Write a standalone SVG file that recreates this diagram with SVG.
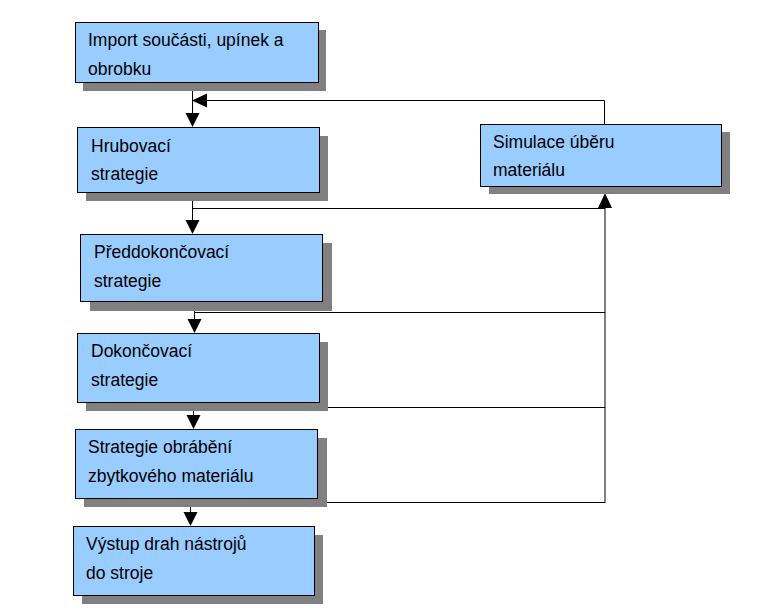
<svg xmlns="http://www.w3.org/2000/svg" width="776" height="614" viewBox="0 0 776 614">
<style>
.shadow{fill:#808080;stroke:none}
.box{fill:#99CCFF;stroke:#000;stroke-width:1}
.t{font-family:"Liberation Sans",Arial,sans-serif;font-size:17.5px;fill:#000}
.ln{fill:none;stroke:#000;stroke-width:1}
.ah{fill:#000;stroke:none}
</style>
<rect width="776" height="614" fill="#fff"/>
<g id="connectors">
  <path class="ln" d="M192.5,82 V114"/>
  <polygon class="ah" points="185.5,113 199.5,113 192.5,127"/>
  <path class="ln" d="M604.5,124 V100.5 H206"/>
  <polygon class="ah" points="192,100.5 207,93.5 207,107.5"/>
  <path class="ln" d="M192.5,192 V221"/>
  <polygon class="ah" points="185.5,220 199.5,220 192.5,234"/>
  <path class="ln" d="M192.5,208.5 H605"/>
  <path class="ln" d="M194.5,302 V320"/>
  <polygon class="ah" points="187.5,319 201.5,319 194.5,333"/>
  <path class="ln" d="M194.5,312.5 H605"/>
  <path class="ln" d="M193.5,402 V416"/>
  <polygon class="ah" points="186.5,415 200.5,415 193.5,429"/>
  <path class="ln" d="M193.5,407.5 H605"/>
  <path class="ln" d="M190.5,498 V513"/>
  <polygon class="ah" points="183.5,512 197.5,512 190.5,526"/>
  <path class="ln" d="M190.5,502.5 H605"/>
  <path class="ln" d="M605,503 V206"/>
  <polygon class="ah" points="598,208 612,208 605,193"/>
</g>
<g id="n1">
  <rect class="shadow" x="83" y="30" width="243" height="61"/>
  <rect class="box" x="75.5" y="22.5" width="243" height="60"/>
  <text class="t" x="88" y="46">Import součásti, upínek a</text>
  <text class="t" x="88" y="75">obrobku</text>
</g>
<g id="n2">
  <rect class="shadow" x="86" y="136" width="242" height="65"/>
  <rect class="box" x="77.5" y="127.5" width="242" height="65"/>
  <text class="t" x="91" y="151.5">Hrubovací</text>
  <text class="t" x="91" y="180">strategie</text>
</g>
<g id="n3">
  <rect class="shadow" x="90" y="243" width="242" height="68"/>
  <rect class="box" x="80.5" y="234.5" width="242" height="67"/>
  <text class="t" x="94" y="258">Předdokončovací</text>
  <text class="t" x="94" y="287">strategie</text>
</g>
<g id="n4">
  <rect class="shadow" x="86" y="342" width="242" height="69"/>
  <rect class="box" x="77.5" y="333.5" width="242" height="69"/>
  <text class="t" x="91" y="357">Dokončovací</text>
  <text class="t" x="91" y="386">strategie</text>
</g>
<g id="n5">
  <rect class="shadow" x="84" y="438" width="243" height="69"/>
  <rect class="box" x="75.5" y="429.5" width="242" height="69"/>
  <text class="t" x="88" y="453">Strategie obrábění</text>
  <text class="t" x="88" y="482">zbytkového materiálu</text>
</g>
<g id="n6">
  <rect class="shadow" x="82" y="535" width="241" height="69"/>
  <rect class="box" x="73.5" y="526.5" width="241" height="69"/>
  <text class="t" x="86" y="550">Výstup drah nástrojů</text>
  <text class="t" x="86" y="579">do stroje</text>
</g>
<g id="n7">
  <rect class="shadow" x="489" y="132" width="241" height="62"/>
  <rect class="box" x="480.5" y="124.5" width="241" height="62"/>
  <text class="t" x="493" y="147.5">Simulace úběru</text>
  <text class="t" x="493" y="176">materiálu</text>
</g>
</svg>
